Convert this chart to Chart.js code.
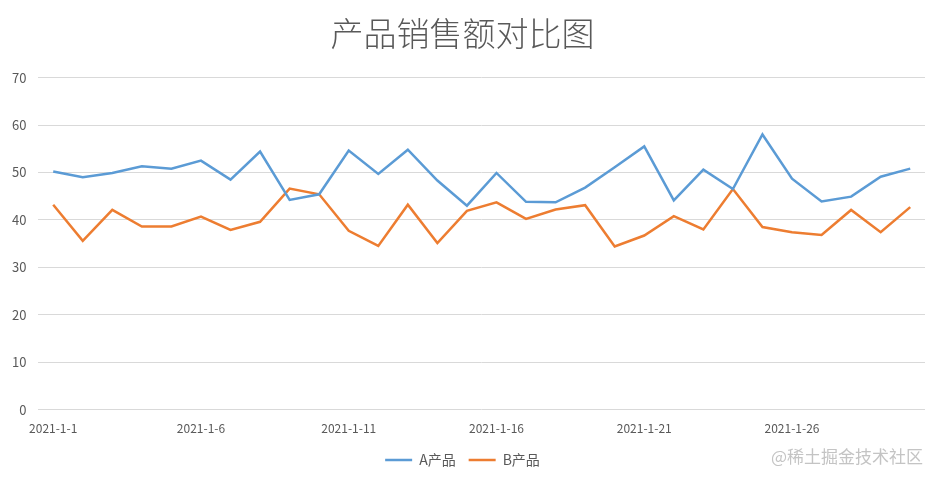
<!DOCTYPE html>
<html lang="zh">
<head>
    <meta charset="UTF-8">
    <title>产品销售额对比图</title>
    <script src="https://cdn.jsdelivr.net/npm/chart.js"></script>
    <style>
        html, body {
            margin: 0;
            padding: 0;
            background: #fff;
        }
        .wrap {
            position: relative;
            width: 939px;
            height: 479px;
        }
        .mark {
            position: absolute;
            right: 16px;
            bottom: 11px;
            font-family: 'Noto Sans CJK SC', sans-serif;
            font-size: 17px;
            color: #c4c4c4;
        }
    </style>
</head>
<body>
    <div class="wrap">
        <canvas id="salesChart"></canvas>
        <div class="mark">@稀土掘金技术社区</div>
    </div>

    <script>
        // 数据
        const dates = [
            '2021-1-1', '2021-1-2', '2021-1-3', '2021-1-4', '2021-1-5',
            '2021-1-6', '2021-1-7', '2021-1-8', '2021-1-9', '2021-1-10',
            '2021-1-11', '2021-1-12', '2021-1-13', '2021-1-14', '2021-1-15',
            '2021-1-16', '2021-1-17', '2021-1-18', '2021-1-19', '2021-1-20',
            '2021-1-21', '2021-1-22', '2021-1-23', '2021-1-24', '2021-1-25',
            '2021-1-26', '2021-1-27', '2021-1-28', '2021-1-29', '2021-1-30'
        ];
        const productA = [
            50.2, 49.0, 49.9, 51.3, 50.8, 52.5, 48.5, 54.4, 44.2, 45.4,
            54.6, 49.7, 54.8, 48.3, 43.0, 49.9, 43.8, 43.7, 46.8, 51.1,
            55.5, 44.1, 50.6, 46.5, 58.0, 48.7, 43.9, 44.9, 49.1, 50.8
        ];
        const productB = [
            43.2, 35.6, 42.1, 38.6, 38.6, 40.7, 37.9, 39.6, 46.6, 45.4,
            37.7, 34.5, 43.2, 35.1, 41.9, 43.7, 40.2, 42.2, 43.1, 34.4,
            36.7, 40.8, 38.0, 46.5, 38.5, 37.4, 36.8, 42.1, 37.4, 42.7
        ];
        const yTicks = [0, 10, 20, 30, 40, 50, 60, 70];

        const font = "'Noto Sans CJK SC', 'Open Sans', sans-serif";
        const textColor = '#595959';

        const ctx = document.getElementById('salesChart').getContext('2d');
        new Chart(ctx, {
            type: 'line',
            data: {
                labels: dates,
                datasets: [{
                    label: 'A产品',
                    data: productA,
                    borderColor: '#5B9BD5',
                    backgroundColor: '#5B9BD5',
                    borderWidth: 2.5,
                    pointRadius: 0,
                    tension: 0
                }, {
                    label: 'B产品',
                    data: productB,
                    borderColor: '#ED7D31',
                    backgroundColor: '#ED7D31',
                    borderWidth: 2.5,
                    pointRadius: 0,
                    tension: 0
                }]
            },
            options: {
                responsive: true,
                maintainAspectRatio: false,
                animation: false,
                layout: {
                    padding: { left: 0, right: 14, top: 0, bottom: 2 }
                },
                plugins: {
                    title: {
                        display: true,
                        text: '产品销售额对比图',
                        color: textColor,
                        font: { family: font, size: 33, weight: 300 },
                        padding: { top: 14, bottom: 24 }
                    },
                    legend: {
                        position: 'bottom',
                        labels: {
                            color: textColor,
                            font: { family: font, size: 14 },
                            usePointStyle: true,
                            pointStyle: 'line',
                            pointStyleWidth: 27,
                            boxHeight: 3,
                            padding: 13
                        }
                    },
                    tooltip: { enabled: false }
                },
                scales: {
                    x: {
                        offset: true,
                        grid: { display: false },
                        border: { display: false },
                        ticks: {
                            color: textColor,
                            font: { family: font, size: 12 },
                            autoSkip: false,
                            maxRotation: 0,
                            padding: 4,
                            callback: function (value, index) {
                                return index % 5 === 0 ? dates[index] : '';
                            }
                        }
                    },
                    y: {
                        min: yTicks[0],
                        max: yTicks[yTicks.length - 1],
                        afterBuildTicks: function (axis) {
                            axis.ticks = yTicks.map(v => ({ value: v }));
                        },
                        grid: { color: '#d9d9d9', drawTicks: false },
                        border: { display: false },
                        ticks: {
                            color: textColor,
                            font: { family: font, size: 13 },
                            padding: 12
                        }
                    }
                }
            }
        });
    </script>
</body>
</html>
